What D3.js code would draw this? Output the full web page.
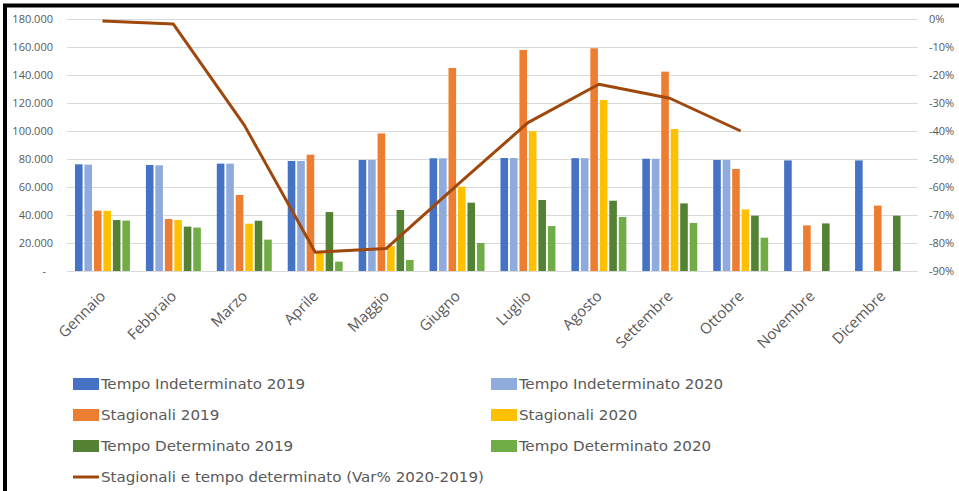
<!DOCTYPE html>
<html lang="it">
<head>
<meta charset="utf-8">
<title>Stagionali e tempo determinato</title>
<script src="https://d3js.org/d3.v7.min.js"></script>
<style>
  body { margin: 0; background: #fff; }
  svg { display: block; }
  .tick-lbl { font-family: "Open Sans", sans-serif; font-size: 11px; fill: #595959; }
  .month-lbl { font-family: "Open Sans", sans-serif; font-size: 15px; fill: #595959; }
  .legend-lbl { font-family: "DejaVu Sans Condensed", sans-serif; font-size: 14px; fill: #595959; }
</style>
</head>
<body>
<div id="chart"></div>
<script>
// data (values = number of employees)
const months = ["Gennaio", "Febbraio", "Marzo", "Aprile", "Maggio", "Giugno",
  "Luglio", "Agosto", "Settembre", "Ottobre", "Novembre", "Dicembre"];
const tempoIndet2019 = [76200, 75700, 76700, 78600, 79300, 80500, 80700, 80600, 80200, 79300, 79000, 79000];
const tempoIndet2020 = [76000, 75500, 76700, 78600, 79300, 80500, 80700, 80600, 80200, 79300, null, null];
const stagionali2019 = [43100, 37100, 54300, 83100, 98300, 145000, 157900, 159100, 142400, 72900, 32600, 46700];
const stagionali2020 = [43000, 36400, 33800, 12800, 17800, 60200, 99800, 122100, 101400, 44000, null, null];
const tempoDet2019 = [36400, 31700, 35900, 42100, 43600, 48800, 50700, 50200, 48300, 39500, 34000, 39500];
const tempoDet2020 = [36000, 31000, 22400, 6700, 7900, 20000, 32100, 38600, 34300, 23800, null, null];
const varPerc = [-0.7, -1.8, -37.9, -83.3, -82.0, -59.3, -37.0, -23.3, -28.3, -40.0, null, null];

const leftTicks = [0, 20000, 40000, 60000, 80000, 100000, 120000, 140000, 160000, 180000];
const rightTicks = [0, -10, -20, -30, -40, -50, -60, -70, -80, -90];

const seriesNames = ["Tempo Indeterminato 2019", "Tempo Indeterminato 2020",
  "Stagionali 2019", "Stagionali 2020", "Tempo Determinato 2019", "Tempo Determinato 2020"];
const seriesValues = [tempoIndet2019, tempoIndet2020, stagionali2019, stagionali2020, tempoDet2019, tempoDet2020];
const seriesColors = ["#4472C4", "#8FAADC", "#ED7D31", "#FFC000", "#548235", "#70AD47"];
const lineName = "Stagionali e tempo determinato (Var% 2020-2019)";
const lineColor = "#9E480E";

const width = 959, height = 491;
const plotLeft = 67, plotRight = 918, plotTop = 19, plotBottom = 271;

// Italian number format: 180.000
const it = d3.formatLocale({decimal: ",", thousands: ".", grouping: [3], currency: ["€", ""]});

const svg = d3.select("#chart").append("svg")
  .attr("width", width)
  .attr("height", height);

// frame
svg.append("rect")
  .attr("x", 5).attr("y", 5.5)
  .attr("width", 1000).attr("height", 1000)
  .attr("fill", "#fff")
  .attr("stroke", "#000")
  .attr("stroke-width", 4);

const x0 = d3.scaleBand()
  .domain(months)
  .range([plotLeft, plotRight])
  .paddingInner(0.225)
  .paddingOuter(0.1125);

const x1 = d3.scaleBand()
  .domain(d3.range(seriesNames.length))
  .range([0, x0.bandwidth()])
  .paddingInner(0.2);

const y = d3.scaleLinear().domain([0, 180000]).range([plotBottom, plotTop]);
const y2 = d3.scaleLinear().domain([-90, 0]).range([plotBottom, plotTop]);

// gridlines
svg.append("g")
  .selectAll("line")
  .data(leftTicks)
  .join("line")
  .attr("x1", plotLeft).attr("x2", plotRight)
  .attr("y1", d => Math.round(y(d)) + 0.5)
  .attr("y2", d => Math.round(y(d)) + 0.5)
  .attr("stroke", "#d9d9d9")
  .attr("stroke-width", 1);

// left axis
const leftAxis = d3.axisLeft(y)
  .tickValues(leftTicks)
  .tickSize(0)
  .tickPadding(14)
  .tickFormat(d => d === 0 ? "-" : it.format(",")(d));

const gl = svg.append("g")
  .attr("transform", `translate(${plotLeft},0)`)
  .call(leftAxis);
gl.select(".domain").remove();
gl.selectAll("text").attr("class", "tick-lbl")
  .attr("dx", d => d === 0 ? -7 : 0);

// right axis
const rightAxis = d3.axisRight(y2)
  .tickValues(rightTicks)
  .tickSize(0)
  .tickPadding(11)
  .tickFormat(d => d + "%");
const gr = svg.append("g")
  .attr("transform", `translate(${plotRight},0)`)
  .call(rightAxis);
gr.select(".domain").remove();
gr.selectAll("text").attr("class", "tick-lbl");

// month labels
svg.append("g")
  .selectAll("text")
  .data(months)
  .join("text")
  .attr("class", "month-lbl")
  .attr("text-anchor", "end")
  .attr("transform", d => `translate(${x0(d) + x0.bandwidth() / 2 + 4},297) rotate(-45)`)
  .text(d => d);

// bars
const groups = svg.append("g")
  .selectAll("g")
  .data(months)
  .join("g")
  .attr("transform", d => `translate(${x0(d)},0)`);

groups.selectAll("rect")
  .data((m, i) => seriesValues.map((vals, s) => ({s: s, v: vals[i]})).filter(d => d.v != null))
  .join("rect")
  .attr("x", d => x1(d.s))
  .attr("width", x1.bandwidth())
  .attr("y", d => y(d.v))
  .attr("height", d => y(0) - y(d.v))
  .attr("fill", d => seriesColors[d.s]);

// line
const linePts = months.map((m, i) => ({m: m, v: varPerc[i]})).filter(d => d.v != null);
svg.append("path")
  .datum(linePts)
  .attr("fill", "none")
  .attr("stroke", lineColor)
  .attr("stroke-width", 3)
  .attr("stroke-linejoin", "round")
  .attr("d", d3.line()
    .x(d => x0(d.m) + x0.bandwidth() / 2)
    .y(d => y2(d.v)));

// legend
const legendRows = [384, 415, 446];
const legendCols = [73, 491];
const leg = svg.append("g");
seriesNames.forEach((name, i) => {
  const lx = legendCols[i % 2], ly = legendRows[Math.floor(i / 2)];
  leg.append("rect")
    .attr("x", lx).attr("y", ly - 6)
    .attr("width", 26).attr("height", 12)
    .attr("fill", seriesColors[i]);
  leg.append("text")
    .attr("class", "legend-lbl")
    .attr("transform", `translate(${lx + 28},${ly + 5}) scale(1.2,1)`)
    .text(name);
});
leg.append("line")
  .attr("x1", 73).attr("x2", 99)
  .attr("y1", 477).attr("y2", 477)
  .attr("stroke", lineColor)
  .attr("stroke-width", 3);
leg.append("text")
  .attr("class", "legend-lbl")
  .attr("transform", `translate(101,482) scale(1.2,1)`)
  .text(lineName);
</script>
</body>
</html>
